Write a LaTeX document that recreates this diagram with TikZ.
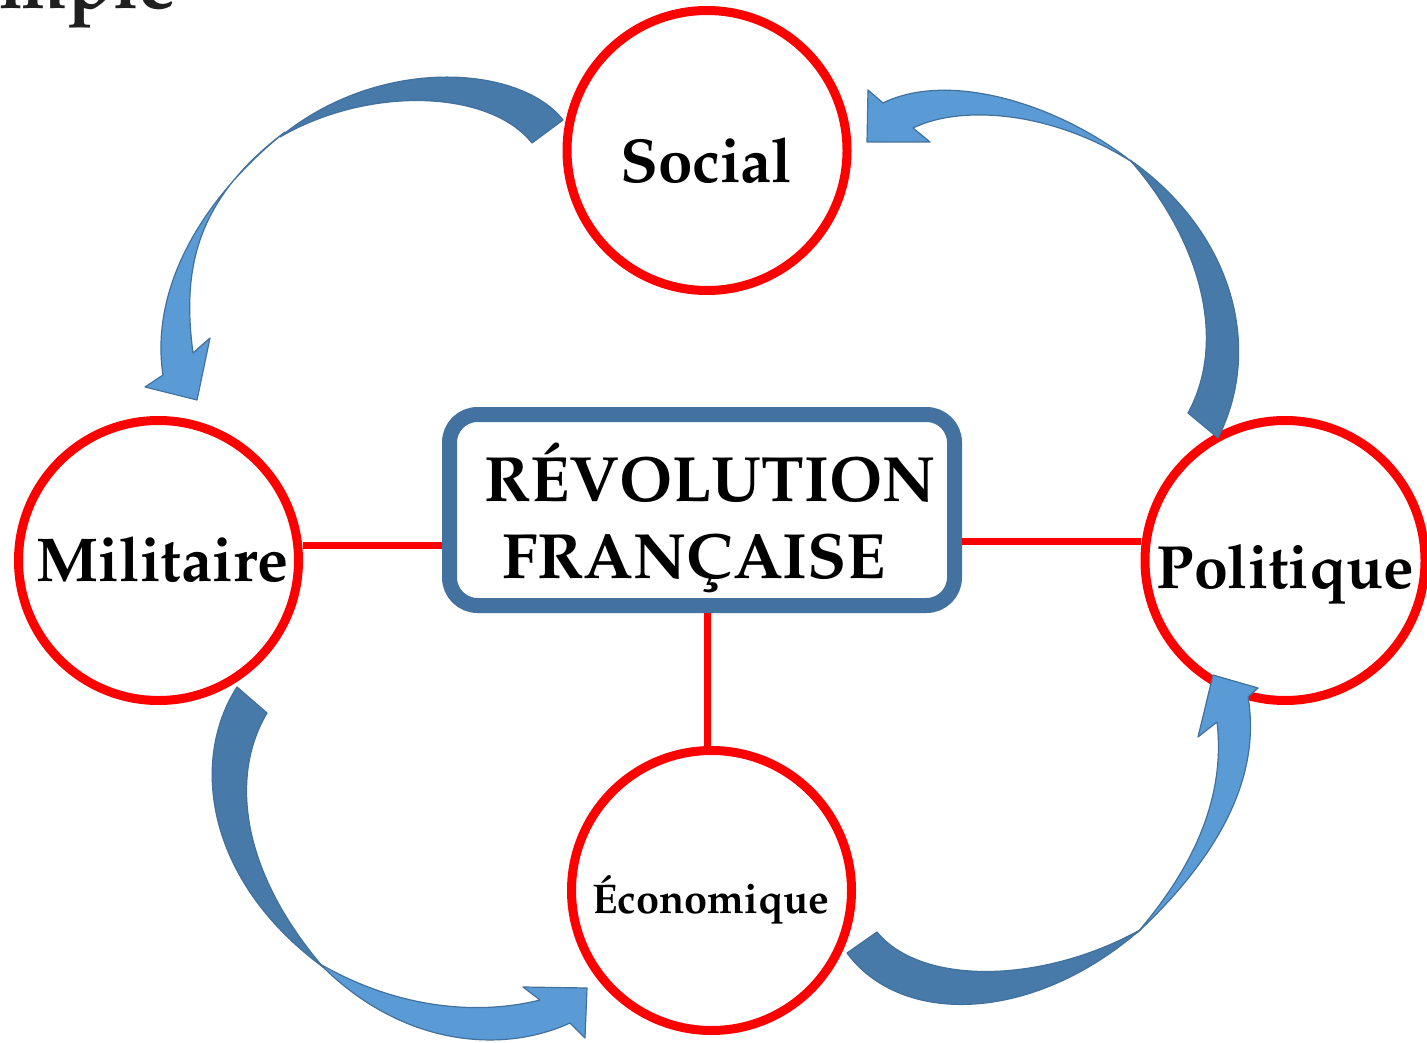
\documentclass[tikz,border=0pt]{standalone}
\usepackage[T1]{fontenc}
\renewcommand{\rmdefault}{ppl}
\definecolor{ringred}{RGB}{255,0,0}
\definecolor{boxblue}{RGB}{68,114,160}
\definecolor{arrdark}{RGB}{71,122,168}
\definecolor{arrlight}{RGB}{91,155,213}
\definecolor{arredge}{RGB}{65,113,156}
\tikzset{
  ring/.style={circle, draw=ringred, line width=9pt, minimum size=280pt, inner sep=0pt},
  lbl/.style={inner sep=0pt, anchor=base, font=\bfseries},
  conn/.style={draw=ringred, line width=7pt},
  darkband/.style={fill=arrdark, draw=arredge, line width=1.2pt, line join=round},
  lightband/.style={fill=arrlight, draw=arredge, line width=1.2pt, line join=round},
}
\begin{document}
\begin{tikzpicture}[x=1pt,y=-1pt]
\clip (0,0) rectangle (1427,1043);
\fill[white] (0,0) rectangle (1427,1043);

% cut-off title
\node[inner sep=0pt, anchor=base east, font=\fontsize{76}{84}\selectfont\bfseries, text=black!88] (title) at (177,9) {Exemple};

% circles
\node[ring] (soc) at (707,150.5) {};
\node[ring] (mil) at (158.5,560.5) {};
\node[ring] (pol) at (1285,560.5) {};
\node[ring] (eco) at (711.5,890.5) {};

% central box
\node[draw=boxblue, line width=15pt, rounded corners=28pt, minimum width=505pt, minimum height=191pt, inner sep=0pt] (rev) at (702,510) {};

% connectors
\draw[conn] ([yshift=-35pt]rev.west) -- ([yshift=-35pt]rev.west -| mil.east);
\draw[conn] ([yshift=-31pt]rev.east) -- ([yshift=-31pt]rev.east -| pol.west);
\draw[conn] ([xshift=5pt]rev.south) -- ([xshift=5pt]rev.south |- eco.north);

% labels
\node[lbl, font=\fontsize{62}{70}\selectfont\bfseries] (tsoc) at (706.5,183) {Social};
\node[lbl, font=\fontsize{62}{70}\selectfont\bfseries] (tmil) at (162.5,581) {Militaire};
\node[lbl, font=\fontsize{61}{70}\selectfont\bfseries] (tpol) at (1285.5,588) {Politique};
\node[lbl, font=\fontsize{41.5}{48}\selectfont\bfseries] (teco) at (711,913) {\'Economique};
\node[lbl, font=\fontsize{64}{72}\selectfont\bfseries] (trev1) at (710,501) {R\'EVOLUTION};
\node[lbl, font=\fontsize{64}{72}\selectfont\bfseries] (trev2) at (694,578) {FRAN\c{C}AISE};

% arrow 1: Social -> Militaire
\filldraw[lightband] (285,132) .. controls (200,200) and (150,290) .. (163,375)
  -- (145,387) -- (197,400) -- (210,338) -- (193,353)
  .. controls (182,270) and (195,200) .. (285,132) -- cycle;
\filldraw[darkband] (563,120) .. controls (520,65) and (380,55) .. (280,137)
  .. controls (370,85) and (490,90) .. (532,143) -- cycle;

% arrow 2: Politique -> Social
\filldraw[lightband] (1132,162) .. controls (1060,105) and (950,70) .. (883,103)
  -- (868,90) -- (867,142) -- (930,142) -- (913,128)
  .. controls (960,105) and (1050,110) .. (1132,162) -- cycle;
\filldraw[darkband] (1218,438) .. controls (1265,345) and (1230,230) .. (1130,160)
  .. controls (1200,240) and (1228,340) .. (1188,413) -- cycle;

% arrow 3: Militaire -> Economique
\filldraw[lightband] (320,964) .. controls (400,1045) and (500,1055) .. (570,1023)
  -- (585,1038) -- (587,988) -- (523,987) -- (540,1000)
  .. controls (480,1015) and (400,1010) .. (320,964) -- cycle;
\filldraw[darkband] (237,687) .. controls (190,760) and (205,880) .. (323,967)
  .. controls (240,870) and (230,775) .. (267,713) -- cycle;

% arrow 4: Economique -> Politique
\filldraw[lightband] (1137,933) .. controls (1215,860) and (1262,780) .. (1248,697)
  -- (1258,688) -- (1213,675) -- (1198,737) -- (1217,722)
  .. controls (1225,790) and (1200,860) .. (1137,933) -- cycle;
\filldraw[darkband] (847,953) .. controls (900,1025) and (1030,1025) .. (1140,930)
  .. controls (1040,985) and (920,985) .. (877,932) -- cycle;
\end{tikzpicture}
\end{document}
